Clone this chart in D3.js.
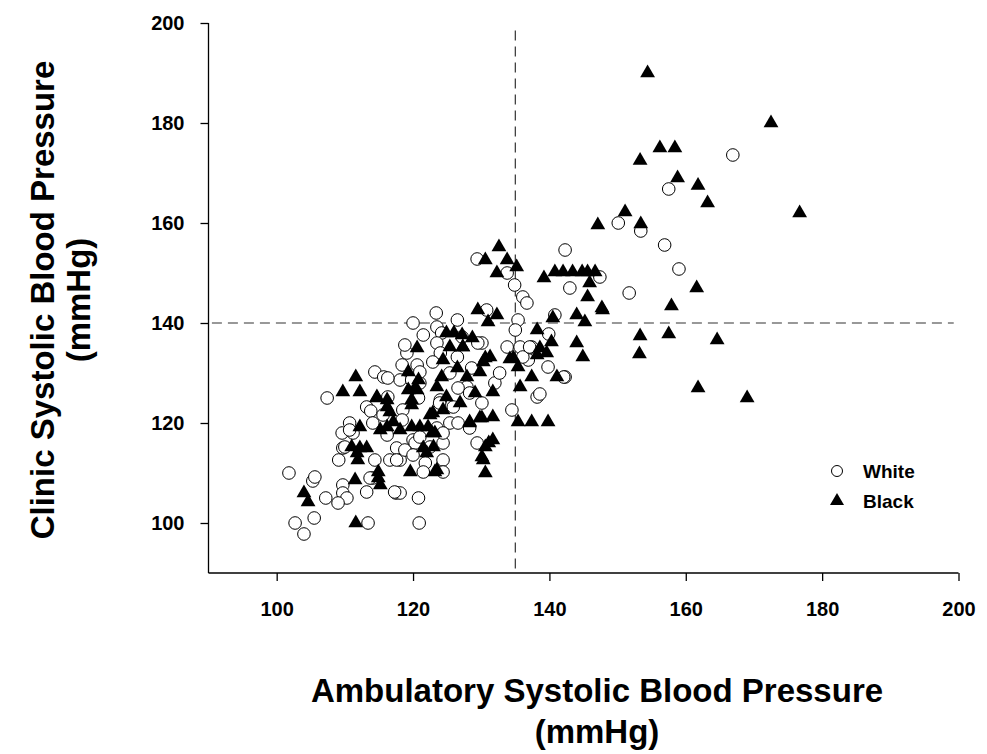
<!DOCTYPE html>
<html>
<head>
<meta charset="utf-8">
<script src="https://cdn.jsdelivr.net/npm/d3@7"></script>
<style>
  html, body { margin: 0; padding: 0; background: #fff; }
  svg { display: block; }
  text { font-family: Arial, "Liberation Sans", sans-serif; font-weight: bold; fill: #000; }
</style>
</head>
<body>
<svg id="chart" width="987" height="754"></svg>
<script>
// ---- data (ambulatory SBP, clinic SBP) ----
const xTicks = [100, 120, 140, 160, 180, 200];
const yTicks = [100, 120, 140, 160, 180, 200];
const xDomain = [90, 200];
const yDomain = [90, 200];
const refX = 135;
const refY = 140;
const legendLabels = ["White", "Black"];

const whitePoints = [
  [166.9,173.6],[157.5,166.8],[150.1,160],[153.4,158.4],[156.9,155.6],[142.3,154.6],[159,150.8],
  [151.7,146],[142.3,129.2],[147.4,149.2],[143,147],[129.4,152.8],[133.8,150],[134.9,147.6],
  [136.1,145.2],[136.7,144],[130.8,142.6],[135.4,140.6],[135,138.6],[140.8,141.6],[120,140],
  [139.9,137.8],[137.4,135.2],[135.7,135.2],[133.8,135.2],[136.9,132.6],[139.8,131.2],[142.1,129.2],
  [138.2,125.2],[138.6,125.8],[134.5,122.6],[132,128],[132.7,130],[130.1,124],[128.3,119],
  [129.4,116],[130.1,136],[127.2,137.2],[136.1,133.2],[128.6,131],[127.9,127.2],[137.1,135.2],
  [123.4,142],[121.5,137.6],[119.1,134],[118.4,131.6],[120.6,131.6],[118.1,128.6],[119.8,128.6],
  [121,128],[120.8,125],[118.5,122.6],[120,116.6],[122.5,115.2],[121.8,112],[123.5,119],
  [123.5,139.2],[124.2,138],[123.5,136],[124,134],[126.5,133.2],[122.9,132.2],[121,130.2],
  [125.4,130],[126.6,127],[128.3,126],[124,124.6],[113.2,123.2],[113.8,122.4],[115.6,121.6],
  [116.3,125.2],[114.4,130.2],[115.7,129.2],[107.4,125],[110.7,120],[111.2,118],[114.1,120],
  [116.2,117.6],[109.7,115],[109.1,112.6],[114.4,112.6],[116.6,112.6],[118.1,112.6],[117.6,115],
  [114.1,109],[109.7,107.6],[109.7,106],[110.3,105],[109,104],[107.2,105],[117.5,106],
  [120.8,105],[105.3,108.4],[105.6,109.2],[101.8,110],[105.5,101],[102.7,100],[104,97.8],
  [113.4,100],[120.9,100],[113.7,109],[109.6,118],[110.7,118.6],[125.4,120],[126.6,120],
  [120.3,116],[124.4,116],[124.4,112.6],[121.5,110.2],[124.4,110.2],[124.4,118],[118.8,114.6],
  [120,113.6],[118.1,106],[121,117.2],[118.4,120.6],[123.9,124],[125.9,123.2],[118.8,135.6],
  [126.5,140.6],[129.5,136],[116.3,129],[113.2,106.2],[117.3,106.2],[110,115.2],[117.6,112.6]
];

const blackPoints = [
  [154.4,190],[172.5,180],[176.7,162],[156.2,175],[158.4,175],[153.3,172.5],[158.8,169],
  [161.8,167.5],[163.2,164],[151.1,162.2],[147.1,159.6],[153.4,159.8],[161.6,147],[157.9,143.4],
  [147.8,142.6],[153.3,137.4],[157.5,137.8],[164.6,136.6],[153.2,133.8],[161.8,127],[169,125],
  [145.9,148],[145.6,145.2],[147.7,143],[144,141.6],[145.2,140.2],[144,136],[144.9,133.2],
  [139.2,149],[140.8,150.2],[142,150.2],[143.4,150.2],[144.8,150.2],[145.6,150.2],[146.7,150.2],
  [132.6,155.2],[130.6,152.6],[133.8,152.6],[132.3,150],[135.2,151.2],[129.5,142.6],[132.3,141.6],
  [131,140.2],[140.5,141],[138.2,138.6],[140.3,136.2],[138.6,135],[139.6,134],[138.2,133.6],
  [134.7,133],[135.4,131.2],[137.4,129.2],[141.1,129.2],[135.7,127.2],[135.4,120.2],[137.4,120.2],
  [139.8,120.2],[131.7,126.2],[129.8,130.2],[130.6,133],[131.3,133.2],[131.7,121.2],[130.1,121],
  [128.3,120.2],[131.1,116],[131.7,116.6],[130.1,113.2],[130.6,110],[130.3,112.6],[128.7,137],
  [127.3,135.2],[130.3,132.2],[134.2,132.8],[127.9,129.2],[129.1,126],[130.6,115.2],
  [120.6,135],[119.3,130.2],[120.6,126.6],[119.3,126.6],[119.8,123.6],[122.9,122],[122.2,119.2],
  [123.2,118],[122,114],[123.5,110.6],[124.9,138],[126,138],[127.2,137.6],[125.4,135.2],
  [127.3,135.2],[124.4,132.6],[126.5,131],[124.2,129.2],[120.8,128.6],[120.3,127],[123.5,127.2],
  [124.9,125.2],[119.8,124.6],[116.2,124.6],[116.6,122.2],[114.7,125.2],[122.5,121.6],[124.4,122.6],
  [126.9,124],[119.8,119.2],[121,119.2],[122.8,118],[128.3,120],[129.8,121],[121.5,115],
  [123,115.2],[119.6,110.2],[123.2,110.2],
  [111.6,129.2],[109.7,126.2],[112.2,126.2],[114.7,125],[116.2,123.2],[117.1,120.2],[118.1,118.6],
  [116.2,119.2],[112.2,119.2],[115.2,118.6],[111,115.2],[113.2,115],[111.9,112.6],[114.9,110.2],
  [115.2,107.6],[111.5,108.6],[104,106],[104.6,104.2],[111.6,100],[111.8,114],[112.2,115],[114.9,109]
];

// ---- layout ----
const svg = d3.select("#chart");
const mLeft = 208.5, mRight = 958.5, mTop = 23, mBottom = 573;

const x = d3.scaleLinear().domain(xDomain).range([mLeft, mRight]);
const y = d3.scaleLinear().domain(yDomain).range([mBottom, mTop]);

// axes
const xAxis = d3.axisBottom(x).tickValues(xTicks).tickSize(8).tickPadding(21).tickFormat(d3.format("d"));
const yAxis = d3.axisLeft(y).tickValues(yTicks).tickSize(8).tickPadding(16).tickFormat(d3.format("d"));

const gx = svg.append("g").attr("transform", `translate(0,${mBottom})`).call(xAxis);
const gy = svg.append("g").attr("transform", `translate(${mLeft},0)`).call(yAxis);
[gx, gy].forEach(g => {
  g.select(".domain").attr("stroke", "#000").attr("stroke-width", 1.3);
  g.selectAll(".tick line").attr("stroke", "#000").attr("stroke-width", 1.3);
  g.selectAll(".tick text").style("font-size", "20px").style("font-family", "Arial, 'Liberation Sans', sans-serif").style("font-weight", "bold").attr("fill", "#000");
});
gx.select(".domain").attr("d", `M${mLeft},0H${mRight}`);
gy.select(".domain").attr("d", `M0,${mBottom}V${mTop}`);

// reference lines
svg.append("line")
  .attr("x1", x(refX)).attr("x2", x(refX))
  .attr("y1", y(198.5)).attr("y2", mBottom)
  .attr("stroke", "#333").attr("stroke-width", 1.2).attr("stroke-dasharray", "10,6");
svg.append("line")
  .attr("x1", x(90.5)).attr("x2", x(199.3))
  .attr("y1", y(refY)).attr("y2", y(refY))
  .attr("stroke", "#333").attr("stroke-width", 1.2).attr("stroke-dasharray", "10,6");

// points
const tri = d3.symbol().type(d3.symbolTriangle).size(95);

svg.append("g").selectAll("circle").data(whitePoints).join("circle")
  .attr("cx", d => x(d[0])).attr("cy", d => y(d[1])).attr("r", 6.3)
  .attr("fill", "#fff").attr("stroke", "#000").attr("stroke-width", 1);

svg.append("g").selectAll("path").data(blackPoints).join("path")
  .attr("d", tri)
  .attr("transform", d => `translate(${x(d[0])},${y(d[1])})`)
  .attr("fill", "#000");

// legend
const lg = svg.append("g");
lg.append("circle").attr("cx", 837).attr("cy", 471).attr("r", 5.5)
  .attr("fill", "#fff").attr("stroke", "#000").attr("stroke-width", 1);
lg.append("path").attr("d", d3.symbol().type(d3.symbolTriangle).size(85))
  .attr("transform", "translate(837,501)").attr("fill", "#000");
lg.append("text").attr("x", 863).attr("y", 478).style("font-size", "19px").text(legendLabels[0]);
lg.append("text").attr("x", 863).attr("y", 508).style("font-size", "19px").text(legendLabels[1]);

// axis titles
svg.append("text").attr("x", 597).attr("y", 702).attr("text-anchor", "middle")
  .style("font-size", "33px").text("Ambulatory Systolic Blood Pressure");
svg.append("text").attr("x", 597).attr("y", 743).attr("text-anchor", "middle")
  .style("font-size", "33px").text("(mmHg)");

const yl = svg.append("g").attr("transform", "translate(0,300) rotate(-90)");
yl.append("text").attr("x", 0).attr("y", 54).attr("text-anchor", "middle")
  .style("font-size", "33px").text("Clinic Systolic Blood Pressure");
yl.append("text").attr("x", 0).attr("y", 90).attr("text-anchor", "middle")
  .style("font-size", "33px").text("(mmHg)");
</script>
</body>
</html>
